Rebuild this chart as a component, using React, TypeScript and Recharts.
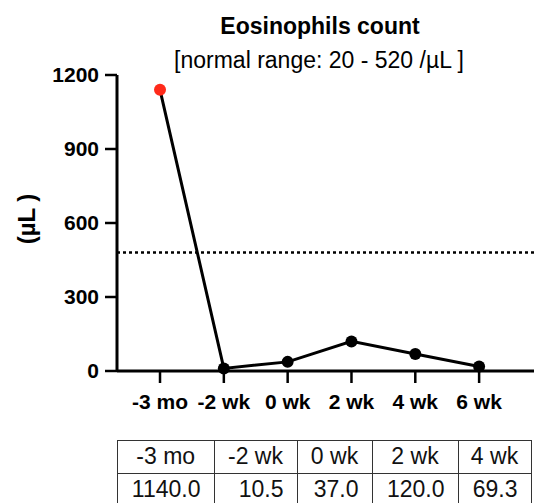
import { LineChart, Line, XAxis, YAxis, ReferenceLine } from 'recharts'

const categories = ['-3 mo', '-2 wk', '0 wk', '2 wk', '4 wk', '6 wk']
const counts = [1140.0, 10.5, 37.0, 120.0, 69.3, 18.0]
const yTicks = [0, 300, 600, 900, 1200]
const upperLimitLine = 480
// only the first five columns of the table are visible in the picture
const tableColumns = 5

const FONT = '"Liberation Sans", Arial, Helvetica, sans-serif'

const data = categories.map((label, i) => ({ idx: i, label, value: counts[i] }))

const PointDot = (props: any) => {
    const { cx, cy, index } = props
    if (cx == null || cy == null) return null
    return <circle key={`dot-${index}`} cx={cx} cy={cy} r={6} fill={index === 0 ? '#ff2a1a' : '#000'} stroke="none" />
}

const colWidths = [96, 83, 75, 86, 73]

export default function App() {
    const tick = { fontFamily: FONT, fontSize: 21, fontWeight: 700, fill: '#000' }
    return (
        <div style={{ position: 'absolute', left: 0, top: 0, width: 534, height: 503, overflow: 'hidden', background: '#fff', fontFamily: FONT }}>
            <div style={{ position: 'absolute', left: 320, top: 13, transform: 'translateX(-50%)', whiteSpace: 'nowrap', fontSize: 23, lineHeight: '26px', fontWeight: 700, color: '#000' }}>
                Eosinophils count
            </div>
            <div style={{ position: 'absolute', left: 319, top: 47, transform: 'translateX(-50%)', whiteSpace: 'nowrap', fontSize: 23, lineHeight: '26px', color: '#000' }}>
                [normal range: 20 - 520 /µL ]
            </div>

            <div style={{ position: 'absolute', left: 0, top: 0 }}>
                <LineChart width={534} height={420} data={data} margin={{ top: 75, right: 0, bottom: 0, left: 0 }}>
                    <XAxis
                        dataKey="idx"
                        type="number"
                        domain={[-0.674, 5.86]}
                        ticks={[0, 1, 2, 3, 4, 5]}
                        tickFormatter={(v: number) => categories[v] ?? ''}
                        height={49}
                        tickSize={12}
                        tickMargin={11}
                        interval={0}
                        axisLine={{ stroke: '#000', strokeWidth: 3 }}
                        tickLine={{ stroke: '#000', strokeWidth: 2.5 }}
                        tick={tick}
                    />
                    <YAxis
                        type="number"
                        domain={[0, 1200]}
                        ticks={yTicks}
                        width={117}
                        tickSize={12}
                        tickMargin={6}
                        axisLine={{ stroke: '#000', strokeWidth: 3 }}
                        tickLine={{ stroke: '#000', strokeWidth: 2.5 }}
                        tick={tick}
                    />
                    <ReferenceLine y={upperLimitLine} stroke="#000" strokeWidth={2.5} strokeDasharray="3 3" />
                    <Line
                        type="linear"
                        dataKey="value"
                        stroke="#000"
                        strokeWidth={3}
                        dot={<PointDot />}
                        activeDot={false}
                        isAnimationActive={false}
                    />
                </LineChart>
            </div>

            <div style={{ position: 'absolute', left: 27, top: 219, transform: 'translate(-50%, -50%) rotate(-90deg)', whiteSpace: 'nowrap', fontSize: 24, fontWeight: 700, color: '#000' }}>
                (µL )
            </div>

            <div style={{ position: 'absolute', left: 117, top: 440, display: 'flex', flexDirection: 'column' }}>
                {[0, 1].map((row) => (
                    <div key={row} style={{ display: 'flex' }}>
                        {categories.slice(0, tableColumns).map((c, i) => (
                            <div
                                key={c}
                                style={{
                                    boxSizing: 'border-box',
                                    width: colWidths[i] + (i === 0 ? 1.5 : 0),
                                    height: row === 0 ? 33.5 : 32,
                                    borderLeft: i === 0 ? '1.5px solid #333' : 'none',
                                    borderRight: '1.5px solid #333',
                                    borderTop: row === 0 ? '1.5px solid #333' : 'none',
                                    borderBottom: '1.5px solid #333',
                                    fontSize: 23,
                                    lineHeight: '30px',
                                    color: '#111',
                                    textAlign: row === 0 ? 'center' : 'right',
                                    paddingRight: row === 0 ? 0 : 13,
                                    whiteSpace: 'nowrap',
                                }}
                            >
                                {row === 0 ? c : counts[i].toFixed(1)}
                            </div>
                        ))}
                    </div>
                ))}
            </div>
        </div>
    )
}
